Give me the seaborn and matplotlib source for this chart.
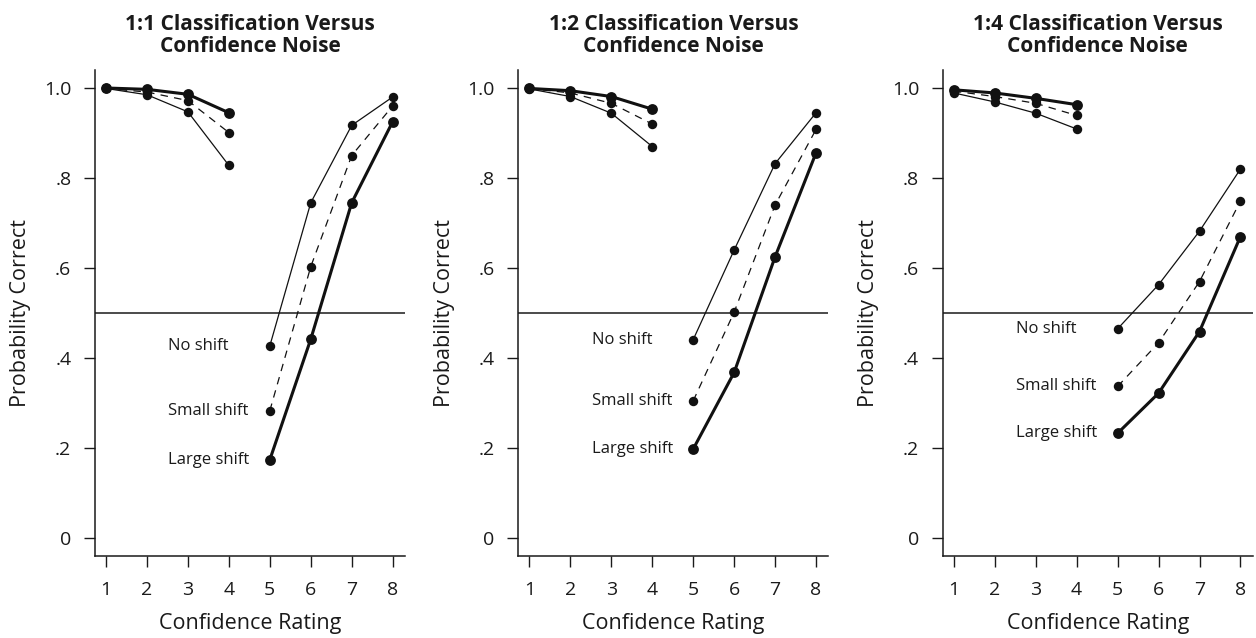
import numpy as np
import pandas as pd
import matplotlib.pyplot as plt
import seaborn as sns

# data
ratings = [1, 2, 3, 4, 5, 6, 7, 8]
panel_titles = ["1:1 Classification Versus\nConfidence Noise",
                "1:2 Classification Versus\nConfidence Noise",
                "1:4 Classification Versus\nConfidence Noise"]
series_names = ["No shift", "Small shift", "Large shift"]

no_shift_11 = [0.998, 0.984, 0.946, 0.827, 0.426, 0.744, 0.916, 0.979]
small_shift_11 = [0.998, 0.990, 0.971, 0.900, 0.282, 0.602, 0.849, 0.959]
large_shift_11 = [0.999, 0.996, 0.985, 0.944, 0.173, 0.441, 0.744, 0.924]

no_shift_12 = [0.997, 0.980, 0.943, 0.869, 0.440, 0.639, 0.831, 0.944]
small_shift_12 = [0.998, 0.988, 0.965, 0.919, 0.304, 0.501, 0.739, 0.907]
large_shift_12 = [0.998, 0.993, 0.980, 0.952, 0.197, 0.367, 0.624, 0.855]

no_shift_14 = [0.988, 0.968, 0.943, 0.908, 0.464, 0.562, 0.681, 0.819]
small_shift_14 = [0.992, 0.980, 0.965, 0.938, 0.336, 0.433, 0.569, 0.748]
large_shift_14 = [0.995, 0.988, 0.976, 0.962, 0.232, 0.321, 0.458, 0.669]

panels = [
    [no_shift_11, small_shift_11, large_shift_11],
    [no_shift_12, small_shift_12, large_shift_12],
    [no_shift_14, small_shift_14, large_shift_14],
]

y_ticks = [0, 0.2, 0.4, 0.6, 0.8, 1.0]
y_tick_labels = ["0", ".2", ".4", ".6", ".8", "1.0"]

# line style per series: (linewidth, dashes, markersize)
styles = {
    "No shift": (0.9, "", 6.8),
    "Small shift": (0.9, (6, 5), 6.8),
    "Large shift": (2.2, "", 7.8),
}

sns.set_style("ticks")
plt.rcParams["font.family"] = ["Open Sans", "DejaVu Sans"]

fig = plt.figure(figsize=(12.56, 6.38), dpi=100)
lefts = [0.0756, 0.4127, 0.7506]

for p, (title, values) in enumerate(zip(panel_titles, panels)):
    ax = fig.add_axes([lefts[p], 0.1285, 0.2468, 0.7618])

    df = pd.DataFrame({
        "rating": ratings * 3,
        "prob": np.concatenate(values),
        "series": np.repeat(series_names, len(ratings)),
    })
    # two separate segments: ratings 1-4 and 5-8
    df["segment"] = np.where(df["rating"] <= 4, "low", "high")

    ax.axhline(0.5, color="#1a1a1a", lw=1.1, zorder=1)

    for name in series_names:
        lw, dash, ms = styles[name]
        for seg in ["low", "high"]:
            sub = df[(df["series"] == name) & (df["segment"] == seg)]
            line = sns.lineplot(data=sub, x="rating", y="prob", ax=ax,
                                color="#111111", linewidth=lw, marker="o",
                                markersize=ms, markeredgewidth=0,
                                estimator=None, sort=False, zorder=3)
            if dash:
                line.lines[-1].set_dashes(dash)

        y5 = df[(df["series"] == name) & (df["rating"] == 5)]["prob"].iloc[0]
        ax.text(2.52, y5, name, ha="left", va="center", fontsize=12,
                color="#1a1a1a")

    ax.set_xlim(0.73, 8.3)
    ax.set_ylim(-0.0407, 1.039)
    ax.set_xticks(ratings)
    ax.set_yticks(y_ticks)
    ax.set_yticklabels(y_tick_labels)
    ax.tick_params(axis="both", labelsize=14, length=8, width=1.0,
                   color="#1a1a1a", labelcolor="#1a1a1a")
    ax.tick_params(axis="y", pad=9)
    ax.tick_params(axis="x", pad=10)
    for s in ["left", "bottom"]:
        ax.spines[s].set_linewidth(1.1)
        ax.spines[s].set_color("#1a1a1a")
    sns.despine(ax=ax)

    ax.set_xlabel("Confidence Rating", fontsize=15.5, color="#1a1a1a", labelpad=10)
    ax.set_ylabel("Probability Correct", fontsize=15.5, color="#1a1a1a", labelpad=9)
    ax.set_title(title, fontsize=15, fontweight="bold", color="#1a1a1a",
                 pad=13, linespacing=1.05)

fig.savefig("out.png", dpi=100)
